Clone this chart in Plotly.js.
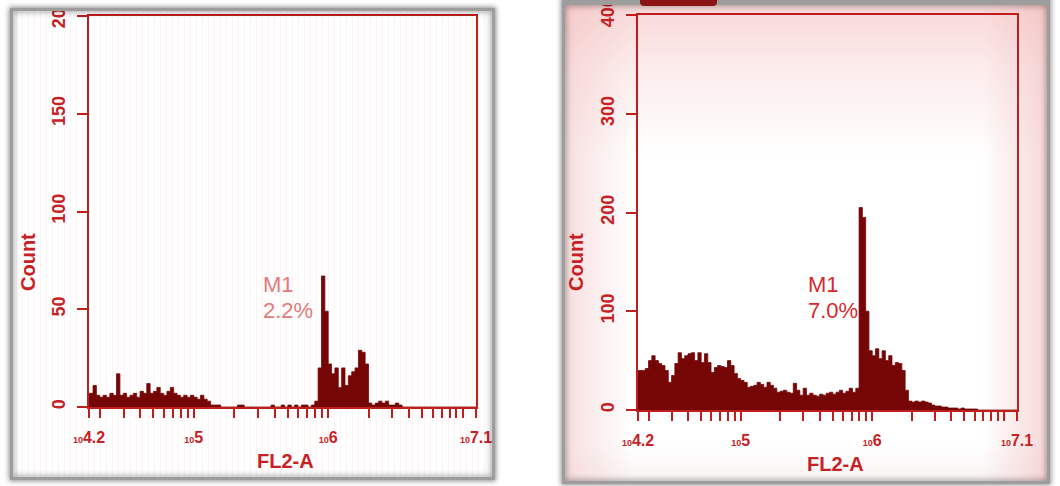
<!DOCTYPE html>
<html>
<head>
<meta charset="utf-8">
<script src="https://cdn.plot.ly/plotly-3.0.1.min.js"></script>
<style>
  html, body { margin:0; padding:0; background:#ffffff; width:1060px; height:486px; overflow:hidden; }
  #wrap { position:relative; width:1060px; height:486px; }
  .bg, .frame, .deco { position:absolute; box-sizing:border-box; }
  #plot { position:absolute; left:0; top:0; width:1060px; height:486px; z-index:1; }
  #bgL { left:10px; top:8px; width:485px; height:472px; z-index:0;
    background:
      repeating-linear-gradient(90deg, rgba(225,140,140,0.10) 0px, rgba(225,140,140,0.10) 1px, rgba(255,255,255,0) 1px, rgba(255,255,255,0) 6px),
      #ffffff; }
  #bgR { left:562px; top:-2px; width:488px; height:486px; z-index:0;
    background:
      linear-gradient(180deg, rgba(242,180,180,0.55) 0px, rgba(246,200,200,0.35) 70px, rgba(255,255,255,0) 160px),
      linear-gradient(90deg, rgba(238,180,180,0.45) 0px, rgba(255,255,255,0) 70px, rgba(255,255,255,0) 420px, rgba(238,175,175,0.5) 488px),
      linear-gradient(0deg, rgba(235,220,220,0.35) 0px, rgba(255,255,255,0) 40px),
      #ffffff; }
  .frame { z-index:2; pointer-events:none; border:3px solid #9d9d9d;
    box-shadow: 0 0 5px 1px rgba(0,0,0,0.45), inset 0 0 6px 1px rgba(0,0,0,0.35), 0 0 0 9px #ffffff; }
  #frL { left:10px; top:8px; width:485px; height:472px; }
  #frR { left:562px; top:-2px; width:488px; height:486px; border-top-width:7px; }
  #barR { left:640px; top:0px; width:77px; height:6px; z-index:3; background:#8c1414; border-radius:0 0 4px 4px; }
</style>
</head>
<body>
<div id="wrap">
  <div id="bgL" class="bg"></div>
  <div id="bgR" class="bg"></div>
  <div id="plot"></div>
  <div id="frL" class="frame"></div>
  <div id="frR" class="frame"></div>
  <div id="barR" class="deco"></div>
</div>
<script>
// ---- data (histogram channels on log10 FL2-A scale) ----
const binStartLog = 4.2;   // log10 of first channel edge
const binStepLog = 0.025;  // channel width in log10 units

const countsLeft = [
  7, 7, 11, 6, 5, 6, 5, 7, 6, 17,
  6, 7, 5, 6, 7, 5, 8, 7, 12, 7,
  8, 10, 7, 6, 8, 10, 7, 6, 5, 6,
  5, 6, 5, 4, 6, 4, 3, 1, 1, 1,
  0, 0, 0, 0, 0, 1, 1, 0, 0, 0,
  0, 0, 0, 0, 0, 1, 0, 0, 1, 0,
  1, 0, 1, 0, 1, 1, 0, 1, 3, 20,
  67, 49, 22, 17, 20, 10, 20, 11, 16, 18,
  20, 29, 28, 22, 2, 1, 2, 3, 2, 3,
  1, 1, 2, 1, 0, 0, 0, 0, 0, 0,
  0, 0, 0, 0, 0, 0, 0, 0, 0, 0,
  0, 0, 0, 0, 0, 0
];

const countsRight = [
  40, 40, 40, 42, 50, 55, 50, 47, 45, 40,
  28, 35, 47, 58, 52, 55, 57, 58, 50, 58,
  48, 57, 48, 38, 43, 45, 44, 43, 50, 45,
  37, 32, 30, 28, 23, 24, 25, 28, 26, 23,
  28, 25, 22, 18, 19, 20, 18, 17, 27, 20,
  15, 22, 15, 17, 15, 14, 16, 15, 17, 18,
  16, 18, 20, 17, 19, 22, 18, 22, 205, 195,
  100, 60, 55, 62, 52, 60, 50, 55, 45, 48,
  47, 40, 20, 9, 8, 9, 8, 9, 8, 7,
  5, 4, 4, 3, 3, 2, 2, 2, 1, 2,
  1, 1, 1, 1, 0, 0, 0, 0, 0, 0,
  0, 0, 0, 0, 0, 0
];

const xTickVals = [16596, 20000, 30000, 40000, 50000, 60000, 70000, 80000, 90000,
  100000, 200000, 300000, 400000, 500000, 600000, 700000, 800000, 900000,
  1000000, 2000000, 3000000, 4000000, 5000000, 6000000, 7000000, 8000000, 9000000,
  10000000, 12589254];
const xTickLabelAt = {16596: "4.2", 100000: "5", 1000000: "6", 12589254: "7.1"};
const yTicksLeft = [0, 50, 100, 150, 200];
const yTicksRight = [0, 100, 200, 300, 400];
const markerLeft = ["M1", "2.2%"];
const markerRight = ["M1", "7.0%"];
const xTitle = "FL2-A";
const yTitle = "Count";

// ---- styles ----
const FILL = "#760606";
const AXIS = "#c01d1d";
const TEXT = "#c62226";
const FONT = "Liberation Sans, Arial, sans-serif";

function stepTrace(counts, xa, ya) {
  const xs = [], ys = [];
  for (let i = 0; i < counts.length; i++) {
    xs.push(Math.pow(10, binStartLog + i * binStepLog));
    ys.push(counts[i]);
  }
  xs.push(Math.pow(10, binStartLog + counts.length * binStepLog));
  ys.push(counts[counts.length - 1]);
  return {
    type: "scatter", mode: "lines", x: xs, y: ys, xaxis: xa, yaxis: ya,
    line: {shape: "hv", width: 0.8, color: FILL},
    fill: "tozeroy", fillcolor: FILL, hoverinfo: "skip"
  };
}

const xTickText = xTickVals.map(v => xTickLabelAt[v] !== undefined
  ? "<span style='font-size:9px'>10</span>" + xTickLabelAt[v] : "");

function xAxis(domain, anchor) {
  return {
    domain: domain, anchor: anchor, type: "log", range: [4.22, 7.1],
    showline: true, linecolor: AXIS, linewidth: 2, mirror: true,
    ticks: "outside", ticklen: 9, tickwidth: 2, tickcolor: AXIS,
    tickmode: "array", tickvals: xTickVals, ticktext: xTickText,
    tickfont: {family: FONT, size: 16, color: TEXT, weight: "bold"},
    ticklabelstandoff: 6, ticklabeloverflow: "allow",
    showgrid: false, zeroline: false, fixedrange: true
  };
}
function yAxis(domain, anchor, range, ticks) {
  return {
    domain: domain, anchor: anchor, range: range,
    showline: true, linecolor: AXIS, linewidth: 2, mirror: true,
    ticks: "outside", ticklen: 10, tickwidth: 2, tickcolor: AXIS,
    tickmode: "array", tickvals: ticks, ticktext: ticks.map(String),
    tickangle: -90,
    tickfont: {family: FONT, size: 18, color: TEXT, weight: "bold"},
    ticklabelstandoff: 5, ticklabeloverflow: "allow",
    showgrid: false, zeroline: false, fixedrange: true
  };
}

const W = 1060, H = 486;
const px = x => x / W;
const py = y => (H - y) / H;

const annotations = [
  {text: yTitle, x: px(28), y: py(262), textangle: -90},
  {text: xTitle, x: px(285), y: py(461)},
  {text: yTitle, x: px(576), y: py(262), textangle: -90},
  {text: xTitle, x: px(835), y: py(464)}
].map(a => Object.assign({xref: "paper", yref: "paper", showarrow: false,
  xanchor: "center", yanchor: "middle",
  font: {family: FONT, size: 20, color: TEXT, weight: "bold"}}, a));

[
  {t: markerLeft[0], x: 261, y: 284, c: "#e27a7a"},
  {t: markerLeft[1], x: 261, y: 310, c: "#e27a7a"},
  {t: markerRight[0], x: 806, y: 284, c: "#d6292c"},
  {t: markerRight[1], x: 806, y: 310, c: "#d6292c"}
].forEach(m => annotations.push({
  text: m.t, xref: "paper", yref: "paper", x: px(m.x), y: py(m.y),
  xanchor: "left", yanchor: "middle", showarrow: false,
  font: {family: FONT, size: 22, color: m.c}
}));

const layout = {
  width: W, height: H, margin: {l: 0, r: 0, t: 0, b: 0},
  paper_bgcolor: "rgba(0,0,0,0)", plot_bgcolor: "rgba(0,0,0,0)",
  showlegend: false,
  xaxis: xAxis([px(89), px(476)], "y"),
  yaxis: yAxis([py(407), py(16)], "x", [0, 200], yTicksLeft),
  xaxis2: xAxis([px(638), px(1017)], "y2"),
  yaxis2: yAxis([py(410), py(15)], "x2", [0, 400], yTicksRight),
  annotations: annotations
};

Plotly.newPlot("plot", [stepTrace(countsLeft, "x", "y"), stepTrace(countsRight, "x2", "y2")],
  layout, {staticPlot: true, displayModeBar: false});
</script>
</body>
</html>
